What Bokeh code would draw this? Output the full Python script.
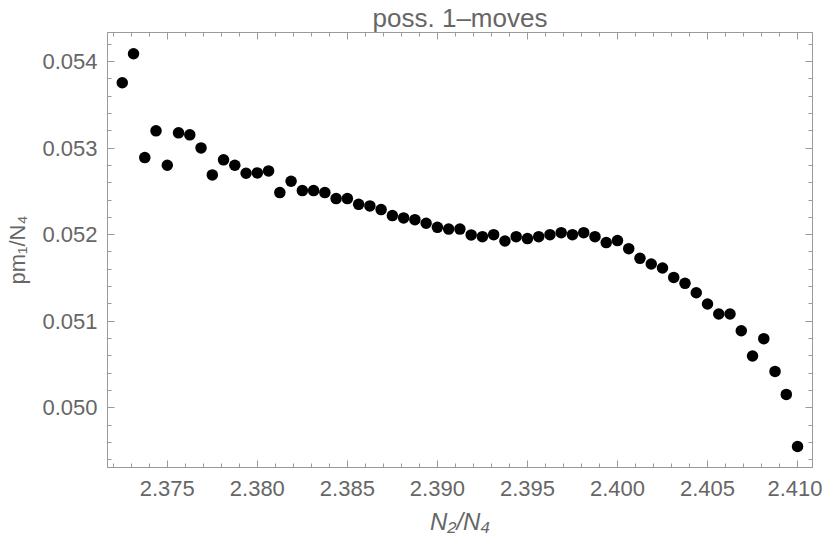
from bokeh.plotting import figure
from bokeh.models import (LinearAxis, Range1d, SingleIntervalTicker, NumeralTickFormatter,
                          CustomJSTickFormatter, Title)
from bokeh.embed import file_html
from bokeh.resources import INLINE

# data
n2_over_n4 = [2.3725, 2.373125, 2.37375, 2.374375, 2.375, 2.375625, 2.37625, 2.376875,
              2.3775, 2.378125, 2.37875, 2.379375, 2.38, 2.380625, 2.38125, 2.381875,
              2.3825, 2.383125, 2.38375, 2.384375, 2.385, 2.385625, 2.38625, 2.386875,
              2.3875, 2.388125, 2.38875, 2.389375, 2.39, 2.390625, 2.39125, 2.391875,
              2.3925, 2.393125, 2.39375, 2.394375, 2.395, 2.395625, 2.39625, 2.396875,
              2.3975, 2.398125, 2.39875, 2.399375, 2.4, 2.400625, 2.40125, 2.401875,
              2.4025, 2.403125, 2.40375, 2.404375, 2.405, 2.405625, 2.40625, 2.406875,
              2.4075, 2.408125, 2.40875, 2.409375, 2.41]
pm1_over_n4 = [0.053754, 0.054089, 0.052890, 0.053199, 0.052801, 0.053176, 0.053153, 0.053002,
               0.052690, 0.052864, 0.052801, 0.052709, 0.052713, 0.052736, 0.052486, 0.052616,
               0.052509, 0.052509, 0.052486, 0.052416, 0.052416, 0.052350, 0.052332, 0.052289,
               0.052220, 0.052193, 0.052173, 0.052131, 0.052084, 0.052064, 0.052064, 0.051997,
               0.051977, 0.052000, 0.051927, 0.051977, 0.051954, 0.051977, 0.052000, 0.052023,
               0.052000, 0.052023, 0.051977, 0.051908, 0.051931, 0.051838, 0.051726, 0.051661,
               0.051615, 0.051506, 0.051437, 0.051329, 0.051199, 0.051083, 0.051083, 0.050890,
               0.050598, 0.050798, 0.050420, 0.050154, 0.049553]

title_text = "poss. 1\u2013moves"
x_label = "N\u2082/N\u2084"
y_label = "pm\u2081/N\u2084"

X0, X1 = 2.37168, 2.41083
Y0, Y1 = 0.04931, 0.054335

FRAME = "#9a9a9a"
TXT = "#666666"
FONT = "Liberation Sans"

p = figure(width=822, height=540, output_backend="svg", toolbar_location=None,
           x_range=Range1d(X0, X1), y_range=Range1d(Y0, Y1),
           x_axis_location=None, y_axis_location=None,
           min_border_left=107, min_border_right=10, min_border_top=32, min_border_bottom=73)
p.grid.visible = False
p.outline_line_color = FRAME
p.background_fill_color = "white"
p.border_fill_color = "white"

def style(ax, labels):
    ax.axis_line_color = FRAME
    ax.major_tick_line_color = FRAME
    ax.minor_tick_line_color = FRAME
    ax.major_tick_in = 7
    ax.major_tick_out = 0
    ax.minor_tick_in = 4
    ax.minor_tick_out = 0
    ax.major_label_text_font = FONT
    ax.major_label_text_color = TXT
    ax.axis_label_text_font = FONT
    ax.axis_label_text_color = TXT
    if not labels:
        ax.formatter = CustomJSTickFormatter(code="return '';")
        ax.major_label_standoff = 0
        ax.major_label_text_font_size = "1px"

xt = SingleIntervalTicker(interval=0.005, num_minor_ticks=5)
yt = SingleIntervalTicker(interval=0.001, num_minor_ticks=5)

xb = LinearAxis(ticker=xt, formatter=NumeralTickFormatter(format="0.000"), axis_label=x_label)
style(xb, True)
xb.major_label_text_font_size = "22px"
xb.major_label_standoff = 13
xb.axis_label_text_font_size = "24px"
xb.axis_label_text_font_style = "italic"
xb.axis_label_standoff = 9
p.add_layout(xb, "below")

yl = LinearAxis(ticker=yt, formatter=NumeralTickFormatter(format="0.000"), axis_label=y_label)
style(yl, True)
yl.major_label_text_font_size = "22px"
yl.major_label_standoff = 10
yl.axis_label_text_font_size = "22px"
yl.axis_label_text_font_style = "normal"
yl.axis_label_standoff = 9
p.add_layout(yl, "left")

# axis nearest to the frame first, then the title above it
xa = LinearAxis(ticker=xt)
style(xa, False)
p.add_layout(xa, "above")

yr = LinearAxis(ticker=yt)
style(yr, False)
p.add_layout(yr, "right")

p.add_layout(Title(text=title_text, align="center", text_font_size="26px",
                   text_font=FONT, text_color=TXT, text_font_style="normal",
                   standoff=0, offset=0), "above")

p.scatter(n2_over_n4, pm1_over_n4, size=11.5, color="black", line_color=None)

open("out.html", "w").write(file_html(p, INLINE))
